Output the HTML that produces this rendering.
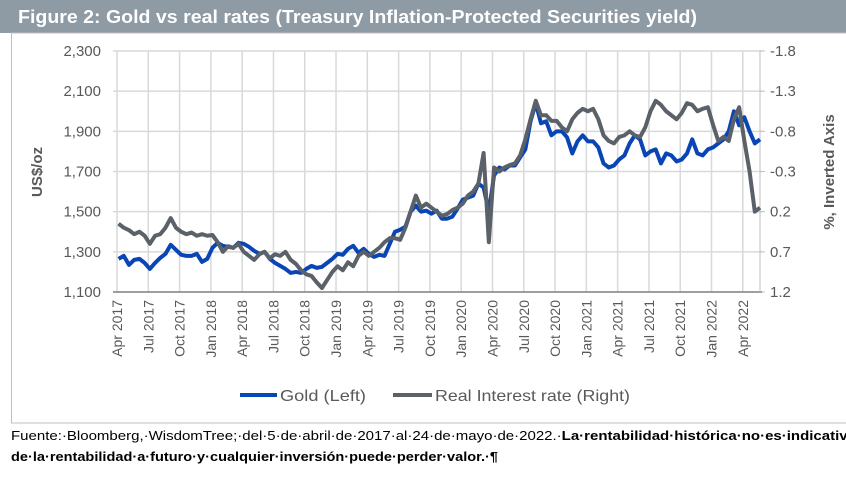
<!DOCTYPE html>
<html><head><meta charset="utf-8"><style>
body{margin:0;background:#fff;width:846px;height:478px;overflow:hidden;font-family:"Liberation Sans",sans-serif}
</style></head><body>
<svg id="chart" width="846" height="478" xmlns="http://www.w3.org/2000/svg" font-family="Liberation Sans, sans-serif">
<rect x="0" y="0" width="846" height="33" fill="#8e9aa4"/>
<text x="18" y="23" fill="#fff" font-weight="bold" font-size="18" textLength="679" lengthAdjust="spacingAndGlyphs">Figure 2: Gold vs real rates (Treasury Inflation-Protected Securities yield)</text>
<rect x="11.5" y="33" width="840" height="390" fill="none" stroke="#bfbfbf"/>
<g id="grid"></g>
<g id="axes"></g>
<g id="series"></g>
<text transform="translate(42,172) rotate(-90)" text-anchor="middle" font-weight="bold" font-size="15" fill="#595959">US$/oz</text>
<text transform="translate(834,172) rotate(-90)" text-anchor="middle" font-weight="bold" font-size="15" fill="#595959">%, Inverted Axis</text>
<g>
<line x1="240" y1="395" x2="277" y2="395" stroke="#0a45b5" stroke-width="4"/>
<text x="280" y="401" font-size="16" fill="#595959" textLength="86" lengthAdjust="spacingAndGlyphs">Gold (Left)</text>
<line x1="393" y1="395" x2="432" y2="395" stroke="#5b6168" stroke-width="4"/>
<text x="435" y="401" font-size="16" fill="#595959" textLength="195" lengthAdjust="spacingAndGlyphs">Real Interest rate (Right)</text>
</g>
<text x="11" y="440" font-size="13" fill="#000" textLength="845" lengthAdjust="spacingAndGlyphs">Fuente:·Bloomberg,·WisdomTree;·del·5·de·abril·de·2017·al·24·de·mayo·de·2022.·<tspan font-weight="bold">La·rentabilidad·histórica·no·es·indicativa</tspan></text>
<text x="11" y="461" font-size="13" font-weight="bold" fill="#000" textLength="487" lengthAdjust="spacingAndGlyphs">de·la·rentabilidad·a·futuro·y·cualquier·inversión·puede·perder·valor.·¶</text>
</svg>
<script>
const leftTicks=[1100,1300,1500,1700,1900,2100,2300];
const leftTickLabels=["1,100","1,300","1,500","1,700","1,900","2,100","2,300"];
const rightTicks=[1.2,0.7,0.2,-0.3,-0.8,-1.3,-1.8];
const rightTickLabels=["1.2","0.7","0.2","-0.3","-0.8","-1.3","-1.8"];
const xTickLabels=["Apr 2017","Jul 2017","Oct 2017","Jan 2018","Apr 2018","Jul 2018","Oct 2018","Jan 2019","Apr 2019","Jul 2019","Oct 2019","Jan 2020","Apr 2020","Jul 2020","Oct 2020","Jan 2021","Apr 2021","Jul 2021","Oct 2021","Jan 2022","Apr 2022"];
const xTickMonths=[0,3,6,9,12,15,18,21,24,27,30,33,36,39,42,45,48,51,54,57,60];
// semi-monthly observations starting Apr 2017
const gold=[1265,1280,1235,1260,1265,1245,1215,1245,1270,1290,1335,1310,1285,1280,1280,1290,1250,1265,
1320,1345,1330,1325,1320,1345,1340,1325,1305,1290,1300,1265,1245,1230,1215,1195,1200,1195,1215,1230,1220,1225,1245,1265,
1290,1285,1315,1330,1295,1315,1290,1275,1285,1280,1340,1400,1410,1425,1500,1530,1500,1505,1490,1505,1465,1465,1475,1515,
1560,1570,1580,1640,1620,1500,1680,1720,1710,1730,1730,1770,1810,1950,2040,1940,1950,1880,1900,1900,1870,1790,1850,1880,
1850,1850,1820,1740,1720,1730,1760,1780,1840,1880,1860,1780,1800,1810,1740,1790,1780,1750,1760,1790,1860,1790,1780,1810,
1820,1840,1860,1900,2000,1930,1970,1900,1840,1860];
const realRate=[0.35,0.4,0.43,0.48,0.45,0.5,0.6,0.5,0.48,0.4,0.28,0.4,0.45,0.48,0.46,0.5,0.48,0.5,
0.49,0.58,0.7,0.63,0.65,0.6,0.7,0.75,0.8,0.73,0.7,0.78,0.73,0.75,0.7,0.8,0.85,0.93,0.98,1.0,1.08,1.15,1.05,0.95,
0.88,0.93,0.83,0.88,0.75,0.7,0.75,0.7,0.65,0.58,0.53,0.53,0.55,0.4,0.2,0.0,0.15,0.1,0.15,0.2,0.25,0.23,0.18,0.15,
0.1,0.0,-0.05,-0.15,-0.53,0.58,-0.35,-0.3,-0.35,-0.38,-0.4,-0.5,-0.7,-0.95,-1.18,-1.0,-1.0,-0.93,-0.93,-0.85,-0.8,-0.95,-1.03,-1.08,
-1.05,-1.08,-0.95,-0.75,-0.68,-0.65,-0.73,-0.75,-0.8,-0.75,-0.73,-0.85,-1.05,-1.18,-1.13,-1.05,-1.0,-0.95,-1.03,-1.15,-1.13,-1.05,-1.08,-1.1,
-0.88,-0.68,-0.73,-0.68,-0.95,-1.1,-0.68,-0.3,0.2,0.15];
const NS="http://www.w3.org/2000/svg";
const X0=117,PER_MONTH=10.43,YT=51,YB=292;
const xScale=m=>X0+m*PER_MONTH;
const yLeft=v=>YB-(v-1100)/1200*(YB-YT);
const yRight=v=>YT+(v+1.8)/3*(YB-YT);
const grid=document.getElementById('grid'),axes=document.getElementById('axes'),series=document.getElementById('series');
function mk(tag,attrs,parent){const e=document.createElementNS(NS,tag);for(const k in attrs)e.setAttribute(k,attrs[k]);parent.appendChild(e);return e;}
leftTicks.forEach((v,i)=>{
  const y=yLeft(v);
  if(i>0){const g=mk('line',{x1:113,x2:762,y1:y,y2:y,stroke:'#d9d9d9','stroke-width':1.5},grid);
  
  }
  const t=mk('text',{x:101,y:y+5,'text-anchor':'end','font-size':15,fill:'#595959'},axes);
  t.textContent=leftTickLabels[i];
  
  
});
rightTicks.forEach((v,i)=>{
  const y=yRight(v);
  const tk=mk('line',{x1:760,x2:765,y1:y,y2:y,stroke:'#bfbfbf'},axes);
  
  
  const t=mk('text',{x:770,y:y+5,'font-size':15,fill:'#595959'},axes);
  t.textContent=rightTickLabels[i];
  
  
});
xTickMonths.forEach((m,i)=>{
  const x=xScale(m);
  const g=mk('line',{x1:x,x2:x,y1:YT,y2:YB,stroke:'#d9d9d9','stroke-width':1.5},grid);
  
  
  const t=mk('text',{transform:`translate(${x+5},${YB+8}) rotate(-90)`,'text-anchor':'end','font-size':14,fill:'#595959'},axes);
  t.textContent=xTickLabels[i];
  
  
});
const xa=mk('line',{x1:113,x2:762,y1:YB,y2:YB,stroke:'#7f7f7f','stroke-width':1.5},axes);


const ra=mk('line',{x1:760,x2:760,y1:YT,y2:YB,stroke:'#bfbfbf'},axes);


const gp=mk('polyline',{points:gold.map((v,i)=>xScale(i*0.5+0.15)+','+yLeft(v)).join(' '),fill:'none',stroke:'#0a45b5','stroke-width':4,'stroke-linejoin':'round'},series);


const rp=mk('polyline',{points:realRate.map((v,i)=>xScale(i*0.5+0.15)+','+yRight(v)).join(' '),fill:'none',stroke:'#5b6168','stroke-width':4,'stroke-linejoin':'round'},series);


</script>
</body></html>
